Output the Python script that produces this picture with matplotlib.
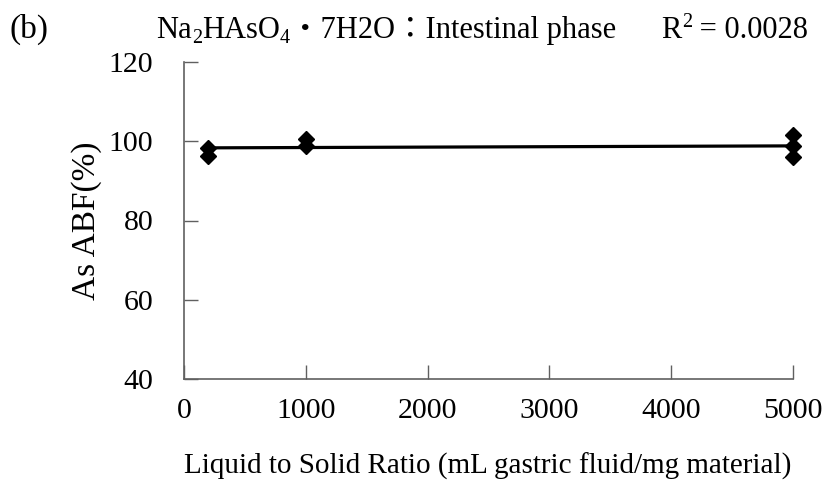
import numpy as np
import matplotlib
matplotlib.use("Agg")
import matplotlib.pyplot as plt

# Arsenic bioaccessibility (intestinal phase) for Na2HAsO4·7H2O
ratio = [200, 200, 1000, 1000, 5000, 5000, 5000]
abf = [98.3, 96.4, 100.5, 98.7, 101.5, 98.7, 95.9]

xticks = [0, 1000, 2000, 3000, 4000, 5000]
yticks = [40, 60, 80, 100, 120]

serif = ["Liberation Serif", "Noto Sans CJK JP"]
plt.rcParams["font.family"] = serif

W, H = 822, 497
fig = plt.figure(figsize=(W / 100, H / 100), dpi=100)
ax = fig.add_axes([184 / W, 1 - 379 / H, 609 / W, 317 / H])

ax.plot(ratio, abf, linestyle="none", marker="D", markersize=8,
        color="black", clip_on=False, zorder=3)

# linear fit across the tested range
coef = np.polyfit(ratio, abf, 1)
xf = np.array([min(ratio), max(ratio)])
ax.plot(xf, np.polyval(coef, xf), color="black", linewidth=2.3,
        clip_on=False, zorder=2)

ax.set_xlim(0, 5000)
ax.set_ylim(40, 120)
ax.set_xticks(xticks)
ax.set_yticks(yticks)
ax.tick_params(axis="both", direction="in", length=10, width=1,
               color="#606060", labelsize=21.5)
ax.tick_params(axis="x", pad=14)
ax.tick_params(axis="y", pad=22)
for s in ("top", "right"):
    ax.spines[s].set_visible(False)
for s in ("left", "bottom"):
    ax.spines[s].set_color("#606060")
    ax.spines[s].set_linewidth(1.2)

ax.set_xlabel("Liquid to Solid Ratio (mL gastric fluid/mg material)",
              fontsize=21, va="center")
ax.xaxis.set_label_coords((488 - 184) / 609, (379 - 466) / 317)
ax.set_ylabel("As ABF(%)", fontsize=24, va="center")
ax.yaxis.set_label_coords((87 - 184) / 609, 0.5)

fig.text(9 / W, 1 - 38 / H, "(b)", fontsize=24, va="baseline")

# title assembled piece by piece so sub/superscripts sit correctly
pieces = [("Na", 0), ("2", -1), ("HAsO", 0), ("4", -1),
          ("・7H2O：Intestinal phase      R", 0), ("2", 1),
          (" = 0.0028", 0)]
base_px = H - 38
shift = {0: 0, -1: -5, 1: 11}
fig.canvas.draw()
renderer = fig.canvas.get_renderer()
x_px = 156
for txt, kind in pieces:
    size = 22 if kind == 0 else 14.5
    t = fig.text(x_px / W, (base_px + shift[kind]) / H, txt,
                 fontsize=size, va="baseline", ha="left")
    x_px = t.get_window_extent(renderer).x1

fig.savefig("out.png", dpi=100)
